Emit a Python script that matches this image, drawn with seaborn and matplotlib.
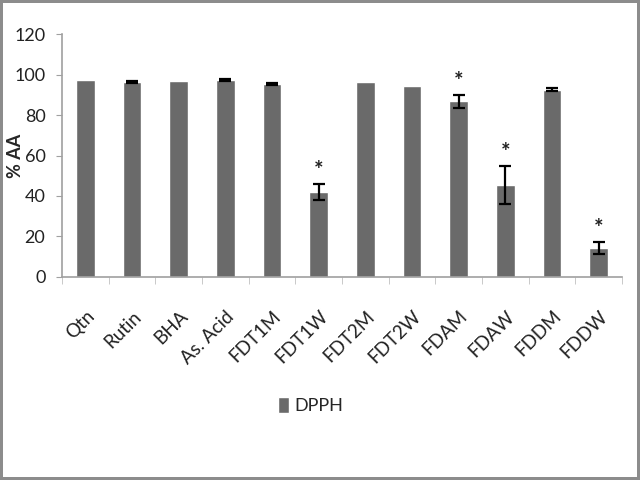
import matplotlib.pyplot as plt
import seaborn as sns
import pandas as pd

samples = ['Qtn', 'Rutin', 'BHA', 'As. Acid', 'FDT1M', 'FDT1W',
           'FDT2M', 'FDT2W', 'FDAM', 'FDAW', 'FDDM', 'FDDW']
dpph = [97.2, 96.3, 96.7, 97.3, 95.3, 42.1, 96.3, 94.4, 86.8, 45.5, 92.5, 14.4]
err = [0.0, 0.5, 0.0, 0.7, 0.5, 4.0, 0.0, 0.0, 3.2, 9.4, 0.8, 3.0]
signif = [False, False, False, False, False, True,
          False, False, True, True, False, True]

df = pd.DataFrame({'sample': samples, 'DPPH': dpph, 'err': err})
df['pos'] = range(len(samples))

sns.set_style('white')
plt.rcParams['font.family'] = ['Lato', 'DejaVu Sans']

fig = plt.figure(figsize=(6.4, 4.8), dpi=100, edgecolor='#8c8c8c', linewidth=3)
ax = fig.add_axes([0.097, 0.423, 0.875, 0.506])

sns.barplot(data=df, x='sample', y='DPPH', color='#6a6a6a', saturation=1,
            width=0.4, label='DPPH', ax=ax)
e = df[df['err'] > 0]
ax.errorbar(e['pos'], e['DPPH'], yerr=e['err'], fmt='none',
            ecolor='black', elinewidth=1.6, capsize=4, capthick=1.6)
for i, (v, er, s) in enumerate(zip(dpph, err, signif)):
    if s:
        ax.text(i, v + er + 6.5, '*', ha='center', va='center', fontsize=16,
                fontweight='bold', color='#222222')

ax.set_ylim(0, 120)
ax.set_xlim(-0.5, len(samples) - 0.5)
ax.set_yticks(range(0, 121, 20))
ax.set_xlabel('')
ax.set_ylabel('% AA', fontsize=13, fontweight='bold', va='center')
ax.yaxis.set_label_coords(-0.083, 0.5)
sns.despine(ax=ax)
for sp in ['left', 'bottom']:
    ax.spines[sp].set_color('#a0a0a0')
    ax.spines[sp].set_linewidth(1.2)

ax.tick_params(axis='y', labelsize=13, length=4, left=True, pad=8,
               color='#a0a0a0', labelcolor='#222222')
ax.set_xticks([i - 0.5 for i in range(len(samples) + 1)], minor=True)
ax.tick_params(axis='x', which='minor', length=5, color='#c0c0c0', bottom=True)
ax.tick_params(axis='x', which='major', length=0, pad=22)
ax.set_xticklabels(samples, rotation=45, ha='right', rotation_mode='anchor',
                   fontsize=13.5, color='#222222')

ax.legend(loc='center', bbox_to_anchor=(0.486, 0.155), bbox_transform=fig.transFigure,
          frameon=False, handlelength=0.6, handleheight=1.0, handletextpad=0.3,
          fontsize=13)

fig.savefig('out.png', dpi=100, edgecolor=fig.get_edgecolor())
